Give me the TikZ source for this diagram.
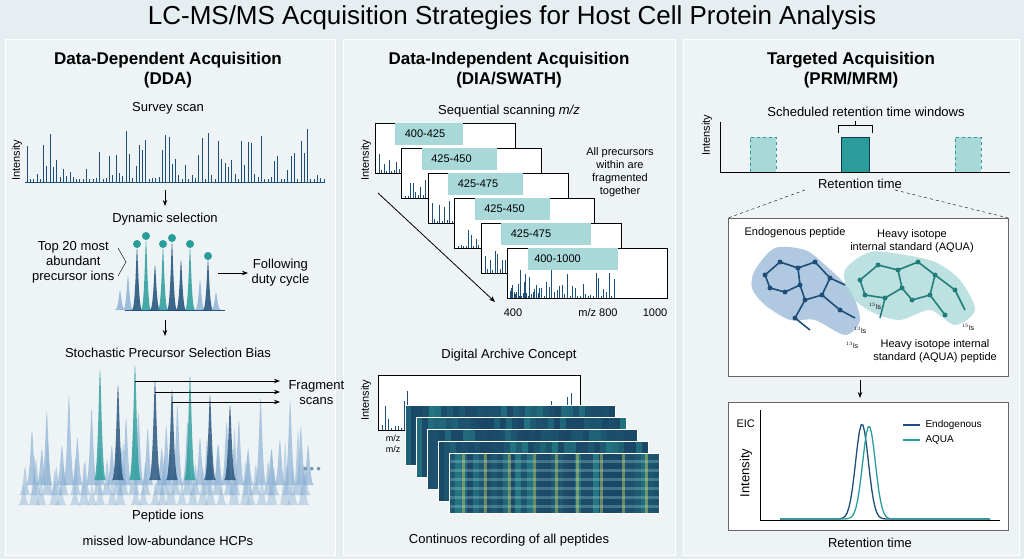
\documentclass[tikz,border=0pt]{standalone}
\usepackage{fontspec}
\setmainfont{Liberation Sans}
\usetikzlibrary{arrows.meta,decorations.pathreplacing}
\definecolor{bg}{HTML}{E6EEF1}
\definecolor{pan}{HTML}{EEF4F6}
\definecolor{navy}{HTML}{1F4E79}
\definecolor{teal}{HTML}{2A9D9A}
\definecolor{lteal}{HTML}{A8D8D8}
\definecolor{lblue}{HTML}{8FB3D4}
\begin{document}
\begin{tikzpicture}[x=1pt,y=-1pt,
  panel/.style={fill=pan,draw=white,line width=1pt},
  ttl/.style={font=\bfseries\fontsize{17}{20}\selectfont,align=center},
  lab/.style={font=\fontsize{13}{15}\selectfont,align=center},
  sm/.style={font=\fontsize{11}{13}\selectfont,align=center},
  arr/.style={-{Stealth[length=6pt]},line width=1pt},
  frame/.style={draw=black,fill=white,line width=0.6pt}]
\useasboundingbox (0,0) rectangle (1024,559);
\fill[bg] (0,0) rectangle (1024,559);
\node (title) at (512,18) {\fontsize{26}{29}\selectfont LC-MS/MS Acquisition Strategies for Host Cell Protein Analysis};
\node[panel,minimum width=330,minimum height=516,anchor=north west,inner sep=0] (p1) at (5,39) {};
\node[panel,minimum width=332,minimum height=516,anchor=north west,inner sep=0] (p2) at (343,39) {};
\node[panel,minimum width=336,minimum height=516,anchor=north west,inner sep=0] (p3) at (683,39) {};
\pgfmathsetseed{7}
% ---------- Left
\node[ttl] (t1) at (168,70) {Data-Dependent Acquisition\\(DDA)};
\node[lab] (ss) at (168,108) {Survey scan};
\node[sm,rotate=90] (i1) at (17,160) {Intensity};
\draw[navy,line width=0.6pt] (25,182) -- (325,182);
\foreach \i in {0,...,90}{
  \pgfmathsetmacro\xx{27+\i*3.3}
  \pgfmathsetmacro\hh{3+50*rnd^3}
  \draw[navy,line width=0.8pt] (\xx,182) -- (\xx,182-\hh);}
\coordinate (a1s) at (165,190); \coordinate (a1e) at (165,206);
\draw[arr] (a1s) -- (a1e);
\node[lab] (ds) at (165,219) {Dynamic selection};
\draw[navy] (125,310) -- (225,310);
\foreach \x/\h/\c in {120/20/lblue,128/35/lblue,137/62/navy,146/70/teal,155/45/navy,163/62/teal,172/68/navy,181/50/navy,190/62/teal,200/30/lblue,208/50/navy,216/18/lblue}{
  \fill[\c,opacity=0.85] (\x-5,310) .. controls (\x-1.5,310) and (\x-0.8,310-\h) .. (\x,310-\h) .. controls (\x+0.8,310-\h) and (\x+1.5,310) .. (\x+5,310) -- cycle;}
\foreach \x/\h in {137/62,146/70,163/62,172/68,190/62,208/50}{
  \fill[teal] (\x,310-\h-4) circle (4);}
\node[lab,anchor=east] (top) at (118,262) {Top 20 most\\abundant\\precursor ions};
\draw (118,248) -- (126,262) -- (118,276);
\coordinate (fs) at (218,273);
\node[lab,anchor=west] (fd) at (248,273) {Following\\duty cycle};
\draw[arr] (fs) -- (fd);
\coordinate (a2s) at (165,320); \coordinate (a2e) at (165,336);
\draw[arr] (a2s) -- (a2e);
\node[lab] (sp) at (168,353) {Stochastic Precursor Selection Bias};
\foreach \row/\base/\op in {0/505/0.45,1/495/0.55,2/485/0.7}{
  \foreach \i in {0,...,28}{
    \pgfmathsetmacro\x{20+\i*10+\row*3+6*rnd}
    \pgfmathsetmacro\h{20+55*rnd^2+\row*8}
    \fill[lblue,opacity=\op] (\x-6,\base) .. controls (\x-2,\base) and (\x-1,\base-\h) .. (\x,\base-\h) .. controls (\x+1,\base-\h) and (\x+2,\base) .. (\x+6,\base) -- cycle;}}
\foreach \x/\h/\c in {100/110/teal,118/95/navy,135/115/teal,155/100/navy,172/90/navy,190/105/teal,210/85/navy,230/75/navy}{
  \fill[\c,opacity=0.8] (\x-6,480) .. controls (\x-2,480) and (\x-1,480-\h) .. (\x,480-\h) .. controls (\x+1,480-\h) and (\x+2,480) .. (\x+6,480) -- cycle;}
\node[lab,anchor=west] (frag) at (285,393) {Fragment\\scans};
\coordinate (f1) at (135,381); \coordinate (f2) at (155,392); \coordinate (f3) at (172,402);
\draw[arr] (f1) -- (280,381);
\draw[arr] (f2) -- (280,392);
\draw[arr] (f3) -- (280,402);
\node[lab,text=navy!60] (dots) at (312,470) {\textbullet\,\textbullet\,\textbullet};
\node[lab] (pi) at (168,516) {Peptide ions};
\node[lab] (ml) at (168,541) {missed low-abundance HCPs};
% ---------- Middle
\node[ttl] (t2) at (509,70) {Data-Independent Acquisition\\(DIA/SWATH)};
\node[lab] (sq) at (509,111) {Sequential scanning \textit{m/z}};
\node[sm,rotate=90] (i2) at (366,160) {Intensity};
\foreach \k/\lab/\hx/\hw in {0/400-425/395/88,1/425-450/415/95,2/425-475/440/95,3/425-450/460/95,4/425-475/480/110,5/400-1000/505/110}{
  \pgfmathsetmacro\X{375+\k*26.5}
  \pgfmathsetmacro\Y{123+\k*25}
  \pgfmathsetmacro\W{ifthenelse(\k==5,160,140)}
  \draw[frame] (\X,\Y) rectangle (\X+\W,\Y+50);
  \fill[lteal] (\X+20,\Y) rectangle (\X+\hw,\Y+22);
  \node[sm] at (\X+50,\Y+11) {\lab};
  \foreach \i in {0,...,12}{
    \pgfmathsetmacro\xx{\X+4+\i*2.5}
    \pgfmathsetmacro\hh{2+22*rnd^3}
    \draw[navy,line width=0.6pt] (\xx,\Y+50) -- (\xx,\Y+50-\hh);}}
\foreach \i in {0,...,40}{
  \pgfmathsetmacro\xx{510+\i*2.6}
  \pgfmathsetmacro\hh{2+30*rnd^3}
  \draw[navy,line width=0.6pt] (\xx,298) -- (\xx,298-\hh);}
\coordinate (ds1) at (378,193); \coordinate (de1) at (495,302);
\draw[arr,line width=0.8pt] (ds1) -- (de1);
\node[sm] (x4) at (513,313) {400};
\node[sm] (x8) at (598,313) {m/z 800};
\node[sm] (x10) at (655,313) {1000};
\node[sm] (allp) at (620,172) {All precursors\\within are\\fragmented\\together};
\node[lab] (dac) at (509,355) {Digital Archive Concept};
\node[sm,rotate=90] (i3) at (366,400) {Intensity};
\draw[frame] (378,375) rectangle (580,430);
\foreach \i in {0,...,60}{
  \pgfmathsetmacro\xx{382+\i*3.2}
  \pgfmathsetmacro\hh{2+40*rnd^3}
  \draw[navy,line width=0.6pt] (\xx,430) -- (\xx,430-\hh);}
\foreach \k in {0,...,4}{
  \pgfmathsetmacro\X{405+\k*11}
  \pgfmathsetmacro\Y{405+\k*12}
  \fill[navy!80!black] (\X,\Y) rectangle (\X+210,\Y+60);
  \foreach \i in {0,...,34}{
    \pgfmathsetmacro\o{0.1+0.5*rnd^2}
    \fill[teal,opacity=\o] (\X+\i*6,\Y) rectangle (\X+\i*6+6,\Y+60);}
  \draw[white,line width=0.5pt] (\X,\Y) rectangle (\X+210,\Y+60);}
\foreach \j in {0,...,5}{
  \pgfmathsetmacro\yy{460+\j*9}
  \fill[lteal,opacity=0.3] (449,\yy) rectangle (659,\yy+2.5);}
\foreach \i in {0,...,8}{
  \pgfmathsetmacro\xx{460+\i*23+5*rnd}
  \fill[yellow!60!lteal,opacity=0.4] (\xx,453) rectangle (\xx+3,513);}
\node[font=\fontsize{9}{10}\selectfont] (mz1) at (393,438) {m/z};
\node[font=\fontsize{9}{10}\selectfont] (mz2) at (393,449) {m/z};
\node[lab] (cr) at (509,540) {Continuos recording of all peptides};
% ---------- Right
\node[ttl] (t3) at (851,70) {Targeted Acquisition\\(PRM/MRM)};
\node[lab] (sr) at (866,112) {Scheduled retention time windows};
\node[sm,rotate=90] (i4) at (707,135) {Intensity};
\draw[line width=0.8pt] (720,122) -- (720,172) -- (1010,172);
\fill[lteal] (750,137) rectangle (776,172);
\draw[teal,dashed] (750,172) -- (750,137) -- (776,137) -- (776,172);
\fill[lteal] (955,137) rectangle (981,172);
\draw[teal,dashed] (955,172) -- (955,137) -- (981,137) -- (981,172);
\fill[teal] (841,137) rectangle (869,172);
\draw[navy!70!black] (841,172) -- (841,137) -- (869,137) -- (869,172);
\draw (838,133) -- (838,125) -- (872,125) -- (872,133);
\draw (855,125) -- (855,121);
\node[lab] (rt) at (860,184) {Retention time};
\node[draw=black!60,fill=white,minimum width=280,minimum height=158,anchor=north west,inner sep=0] (mol) at (728,218) {};
\draw[dashed] (805,190) -- (mol.north west);
\draw[dashed] (895,190) -- (mol.north east);
\fill[lblue,opacity=0.7] plot[smooth cycle] coordinates {(755,270) (775,248) (805,250) (825,265) (850,290) (860,320) (845,335) (815,320) (790,320) (765,305) (752,288)};
\fill[lteal,opacity=0.75] plot[smooth cycle] coordinates {(845,270) (870,252) (905,255) (935,262) (960,280) (975,310) (955,325) (930,310) (900,320) (872,312) (850,295)};
\draw[navy,line width=1.6pt,line join=round] (765,275) -- (780,262) -- (798,268) -- (800,285) -- (785,292) -- (770,288) -- cycle (798,268) -- (815,262) -- (830,278) -- (822,295) -- (805,300) -- (800,285) (822,295) -- (840,310) -- (855,318) (805,300) -- (795,318) -- (810,330) (830,278) -- (845,285);
\draw[teal!80!black,line width=1.6pt,line join=round] (860,280) -- (878,265) -- (898,270) -- (902,288) -- (885,298) -- (865,295) -- cycle (898,270) -- (918,262) -- (935,275) -- (930,295) -- (912,300) -- (902,288) (935,275) -- (955,290) -- (965,310) (930,295) -- (945,315) (885,298) -- (880,318);
\foreach \p in {(765,275),(780,262),(798,268),(800,285),(785,292),(770,288),(815,262),(830,278),(822,295),(805,300),(840,310),(795,318)}{\fill[navy] \p circle (2.5);}
\foreach \p in {(860,280),(878,265),(898,270),(902,288),(885,298),(865,295),(918,262),(935,275),(930,295),(912,300),(955,290),(945,315)}{\fill[teal!80!black] \p circle (2.5);}
\node[font=\fontsize{7}{8}\selectfont] (s1) at (860,330) {$^{13}$ls};
\node[font=\fontsize{7}{8}\selectfont] (s2) at (852,345) {$^{13}$ls};
\node[font=\fontsize{7}{8}\selectfont] (s3) at (875,306) {$^{15}$ls};
\node[font=\fontsize{7}{8}\selectfont] (s4) at (968,327) {$^{15}$ls};
\node[sm] (ep) at (795,233) {Endogenous peptide};
\node[sm] (hi) at (912,241) {Heavy isotope\\internal standard (AQUA)};
\node[sm] (hp) at (935,351) {Heavy isotope internal\\standard (AQUA) peptide};
\coordinate (a3s) at (860,380); \coordinate (a3e) at (860,398);
\draw[arr] (a3s) -- (a3e);
\node[draw=black!60,fill=white,minimum width=280,minimum height=128,anchor=north west,inner sep=0] (eic) at (728,402) {};
\node[sm,anchor=west] (eicl) at (733,424) {EIC};
\node[lab,rotate=90] (i5) at (746,473) {Intensity};
\draw[line width=0.7pt] (760,410) -- (760,520) -- (1000,520);
\draw[navy,line width=1.3pt] plot[domain=780:990,samples=120] (\x,{519-95*exp(-((\x-862)/9)^2)});
\draw[teal,line width=1.3pt] plot[domain=780:990,samples=120] (\x,{519-93*exp(-((\x-869)/9)^2)});
\draw[navy,line width=1.3pt] (903,425) -- (920,425);
\node[font=\fontsize{10}{12}\selectfont,anchor=west] (le) at (922,425) {Endogenous};
\draw[teal,line width=1.3pt] (903,440) -- (920,440);
\node[font=\fontsize{10}{12}\selectfont,anchor=west] (la) at (922,440) {AQUA};
\node[lab] (rt2) at (870,543) {Retention time};
\end{tikzpicture}
\end{document}
